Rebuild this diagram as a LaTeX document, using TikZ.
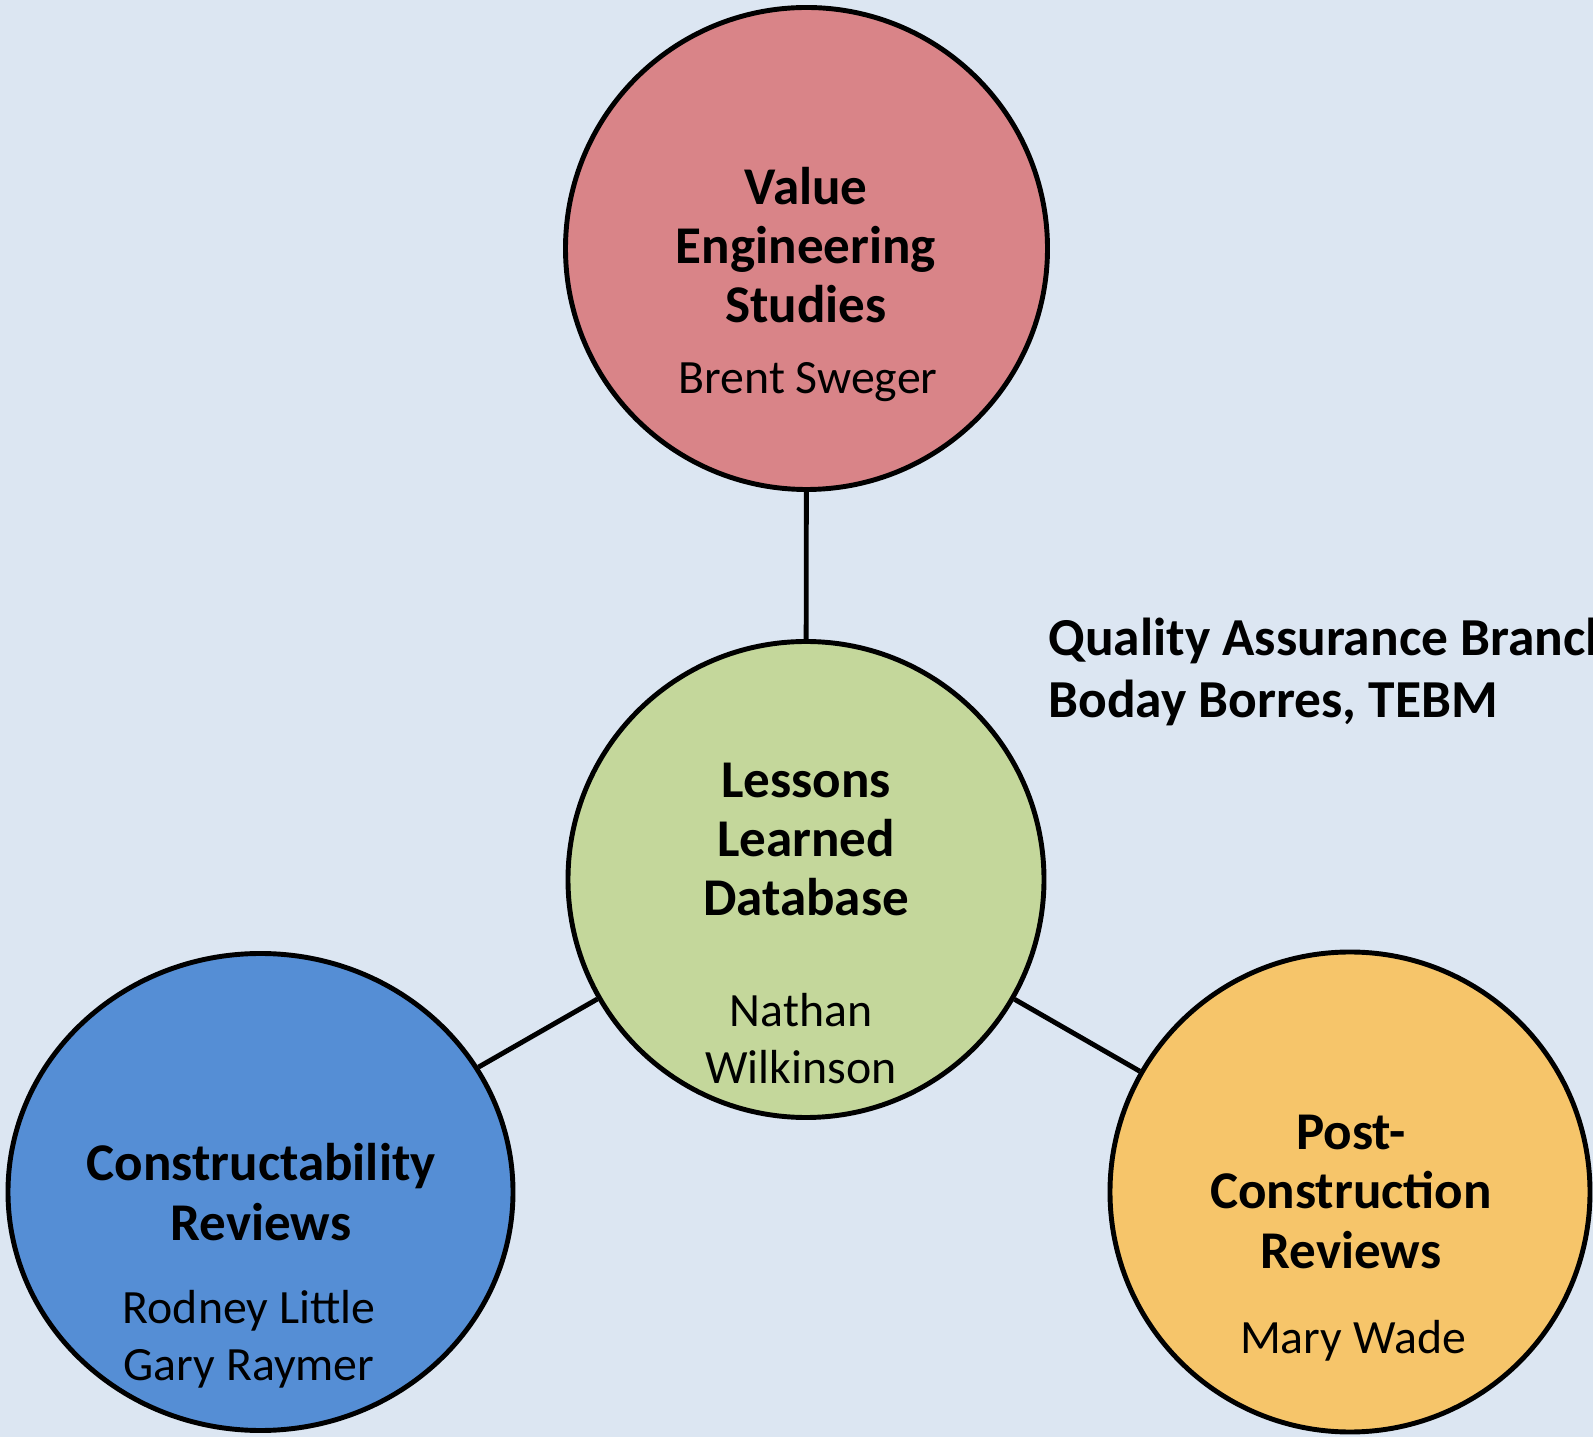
\documentclass[tikz,border=0pt]{standalone}
\usepackage{fontspec}
\setmainfont{Carlito}
\usepackage{tikz}
\usetikzlibrary{shapes.geometric}

\definecolor{bg}{RGB}{220,230,242}
\definecolor{vered}{RGB}{217,132,136}
\definecolor{llgreen}{RGB}{196,215,155}
\definecolor{crblue}{RGB}{85,142,213}
\definecolor{pcyellow}{RGB}{246,197,106}

\begin{document}
\begin{tikzpicture}[line width=1.4pt,
	title/.style={font=\fontsize{15.1}{16.8}\selectfont\bfseries,align=center,anchor=base,inner sep=0pt},
	who/.style={font=\fontsize{13.6}{16.2}\selectfont,align=center,anchor=base,inner sep=0pt}]
	\fill[bg] (0,0) rectangle (15.93,14.37);
	\useasboundingbox (0,0) rectangle (15.93,14.37);
	% circles
	\node at (8.065,11.885) [circle,draw,fill=vered,minimum size=4.82cm] (ve) {};
	\node at (8.06,5.575) [circle,draw,fill=llgreen,minimum size=4.76cm] (ll) {};
	\node at (2.605,2.45) [ellipse,draw,fill=crblue,minimum width=5.05cm,minimum height=4.77cm] (cr) {};
	\node at (13.50,2.45) [circle,draw,fill=pcyellow,minimum size=4.80cm] (pc) {};
	\draw (ve) -- (ll) (ll) -- (cr) (ll) -- (pc);
	% texts
	\node at (8.06,11.14) [title] (ve1) {Value\\Engineering\\Studies};
	\node at (8.08,10.43) [who] (ve2) {Brent Sweger};
	\node at (8.06,5.21) [title] (ll1) {Lessons\\Learned\\Database};
	\node at (8.01,3.54) [who] (ll2) {Nathan\\Wilkinson};
	\node at (2.61,1.97) [title] (cr1) {Constructability\\Reviews};
	\node at (2.49,0.57) [who] (cr2) {Rodney Little\\Gary Raymer};
	\node at (13.51,1.69) [title] (pc1) {Post-\\Construction\\Reviews};
	\node at (13.53,0.84) [who] (pc2) {Mary Wade};
	\node at (10.46,7.19) [font=\fontsize{15.2}{17.9}\selectfont\bfseries,align=left,anchor=base west,inner sep=0pt] (qa) {Quality Assurance Branch\\Boday Borres, TEBM};
\end{tikzpicture}
\end{document}
